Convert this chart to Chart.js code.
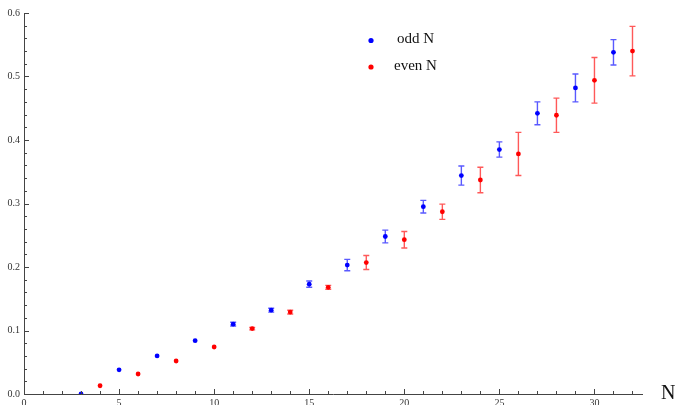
<!DOCTYPE html>
<html>
<head>
<meta charset="utf-8">
<script src="https://cdn.jsdelivr.net/npm/chart.js@4/dist/chart.umd.min.js"></script>
<style>
  html, body { margin: 0; padding: 0; background: #fff; }
  #wrap { width: 678px; height: 405px; position: relative; }
</style>
</head>
<body>
<div id="wrap"><canvas id="c" width="678" height="405"></canvas></div>
<script>
// ---- data ----
const oddN   = [3, 5, 7, 9, 11, 13, 15, 17, 19, 21, 23, 25, 27, 29, 31];
const oddVal = [0.000, 0.038, 0.060, 0.084, 0.110, 0.132, 0.173, 0.203, 0.248, 0.295, 0.344, 0.385, 0.442, 0.482, 0.538];
const oddErr = [0.000, 0.000, 0.000, 0.000, 0.003, 0.003, 0.005, 0.009, 0.010, 0.010, 0.015, 0.012, 0.018, 0.022, 0.020];

const evenN   = [4, 6, 8, 10, 12, 14, 16, 18, 20, 22, 24, 26, 28, 30, 32];
const evenVal = [0.013, 0.0315, 0.052, 0.074, 0.103, 0.129, 0.168, 0.207, 0.243, 0.287, 0.337, 0.378, 0.439, 0.494, 0.540];
const evenErr = [0.000, 0.000, 0.000, 0.000, 0.002, 0.003, 0.003, 0.011, 0.013, 0.012, 0.020, 0.034, 0.027, 0.036, 0.039];

const seriesLabels = ['odd N', 'even N'];
const xTitle = 'N';
const xMin = 0, xMax = 32.5, xMajor = 5, xMinor = 1;
const yMin = 0, yMax = 0.6, yMajor = 0.1, yMinor = 0.02;

const SERIF = '"Liberation Serif", "DejaVu Serif", serif';
const AXIS = '#444';

function pts(xs, ys, es) { return xs.map((x, i) => ({ x: x, y: ys[i], e: es[i] })); }

// error bars + inward ticks + legend + axis title
const extras = {
  id: 'extras',
  afterDatasetsDraw(chart) {
    const ctx = chart.ctx;
    const xs = chart.scales.x, ys = chart.scales.y;
    chart.data.datasets.forEach((ds, di) => {
      const col = di === 0 ? 'rgba(0,0,255,0.65)' : 'rgba(255,0,0,0.65)';
      ctx.save();
      ctx.strokeStyle = col;
      ctx.lineWidth = 1.4;
      ds.data.forEach(p => {
        if (!p.e) return;
        const px = xs.getPixelForValue(p.x);
        const t = ys.getPixelForValue(p.y + p.e);
        const b = ys.getPixelForValue(p.y - p.e);
        ctx.beginPath();
        ctx.moveTo(px, t); ctx.lineTo(px, b);
        ctx.moveTo(px - 3, t); ctx.lineTo(px + 3, t);
        ctx.moveTo(px - 3, b); ctx.lineTo(px + 3, b);
        ctx.stroke();
      });
      ctx.restore();
    });
  },
  afterDraw(chart) {
    const ctx = chart.ctx;
    const xs = chart.scales.x, ys = chart.scales.y;
    const ca = chart.chartArea;
    ctx.save();
    ctx.strokeStyle = AXIS;
    ctx.lineWidth = 1;
    // x ticks (inward, upward)
    for (let v = xMin; v <= xMax + 1e-9; v += xMinor) {
      const px = Math.round(xs.getPixelForValue(v)) + 0.5;
      const major = Math.abs(v / xMajor - Math.round(v / xMajor)) < 1e-6;
      const len = major ? 5 : 3;
      ctx.beginPath(); ctx.moveTo(px, ca.bottom); ctx.lineTo(px, ca.bottom - len); ctx.stroke();
    }
    // y ticks (inward, rightward)
    for (let i = 0; i <= Math.round((yMax - yMin) / yMinor); i++) {
      const v = yMin + i * yMinor;
      const py = Math.round(ys.getPixelForValue(v)) + 0.5;
      const major = i % Math.round(yMajor / yMinor) === 0;
      const len = major ? 5 : 3;
      ctx.beginPath(); ctx.moveTo(ca.left, py); ctx.lineTo(ca.left + len, py); ctx.stroke();
    }
    // axis title
    ctx.fillStyle = '#111';
    ctx.font = '20px ' + SERIF;
    ctx.textAlign = 'left';
    ctx.textBaseline = 'alphabetic';
    ctx.fillText(xTitle, 661, 399);
    // legend
    ctx.font = '15px ' + SERIF;
    ctx.textAlign = 'center';
    ctx.textBaseline = 'middle';
    const legY = [40.5, 67];
    chart.data.datasets.forEach((ds, i) => {
      ctx.fillStyle = ds.backgroundColor;
      ctx.beginPath(); ctx.arc(371, legY[i], 2.6, 0, Math.PI * 2); ctx.fill();
      ctx.fillStyle = '#111';
      ctx.fillText(ds.label, 415.5, legY[i] - 1);
    });
    ctx.restore();
  }
};

new Chart(document.getElementById('c'), {
  type: 'scatter',
  data: {
    datasets: [
      { label: seriesLabels[0], data: pts(oddN, oddVal, oddErr), backgroundColor: '#0000ff', borderColor: '#0000ff', pointRadius: 2.4, pointBorderWidth: 0 },
      { label: seriesLabels[1], data: pts(evenN, evenVal, evenErr), backgroundColor: '#ff0000', borderColor: '#ff0000', pointRadius: 2.4, pointBorderWidth: 0 }
    ]
  },
  options: {
    responsive: false,
    animation: false,
    devicePixelRatio: 1,
    layout: { padding: { top: 13, right: 36, left: 0, bottom: 0 } },
    plugins: { legend: { display: false }, tooltip: { enabled: false } },
    scales: {
      x: {
        type: 'linear', min: xMin, max: xMax,
        afterFit(s) { s.height = 11; },
        grid: { display: false, drawTicks: false },
        border: { display: true, color: AXIS, width: 1 },
        ticks: { stepSize: xMajor, includeBounds: false, padding: 3, color: '#333', font: { family: SERIF, size: 10 }, maxRotation: 0, autoSkip: false }
      },
      y: {
        type: 'linear', min: yMin, max: yMax,
        afterFit(s) { s.width = 24; },
        grid: { display: false, drawTicks: false },
        border: { display: true, color: AXIS, width: 1 },
        ticks: { stepSize: yMajor, padding: 4, color: '#333', font: { family: SERIF, size: 10 }, callback: v => v.toFixed(1) }
      }
    }
  },
  plugins: [extras]
});
</script>
</body>
</html>
